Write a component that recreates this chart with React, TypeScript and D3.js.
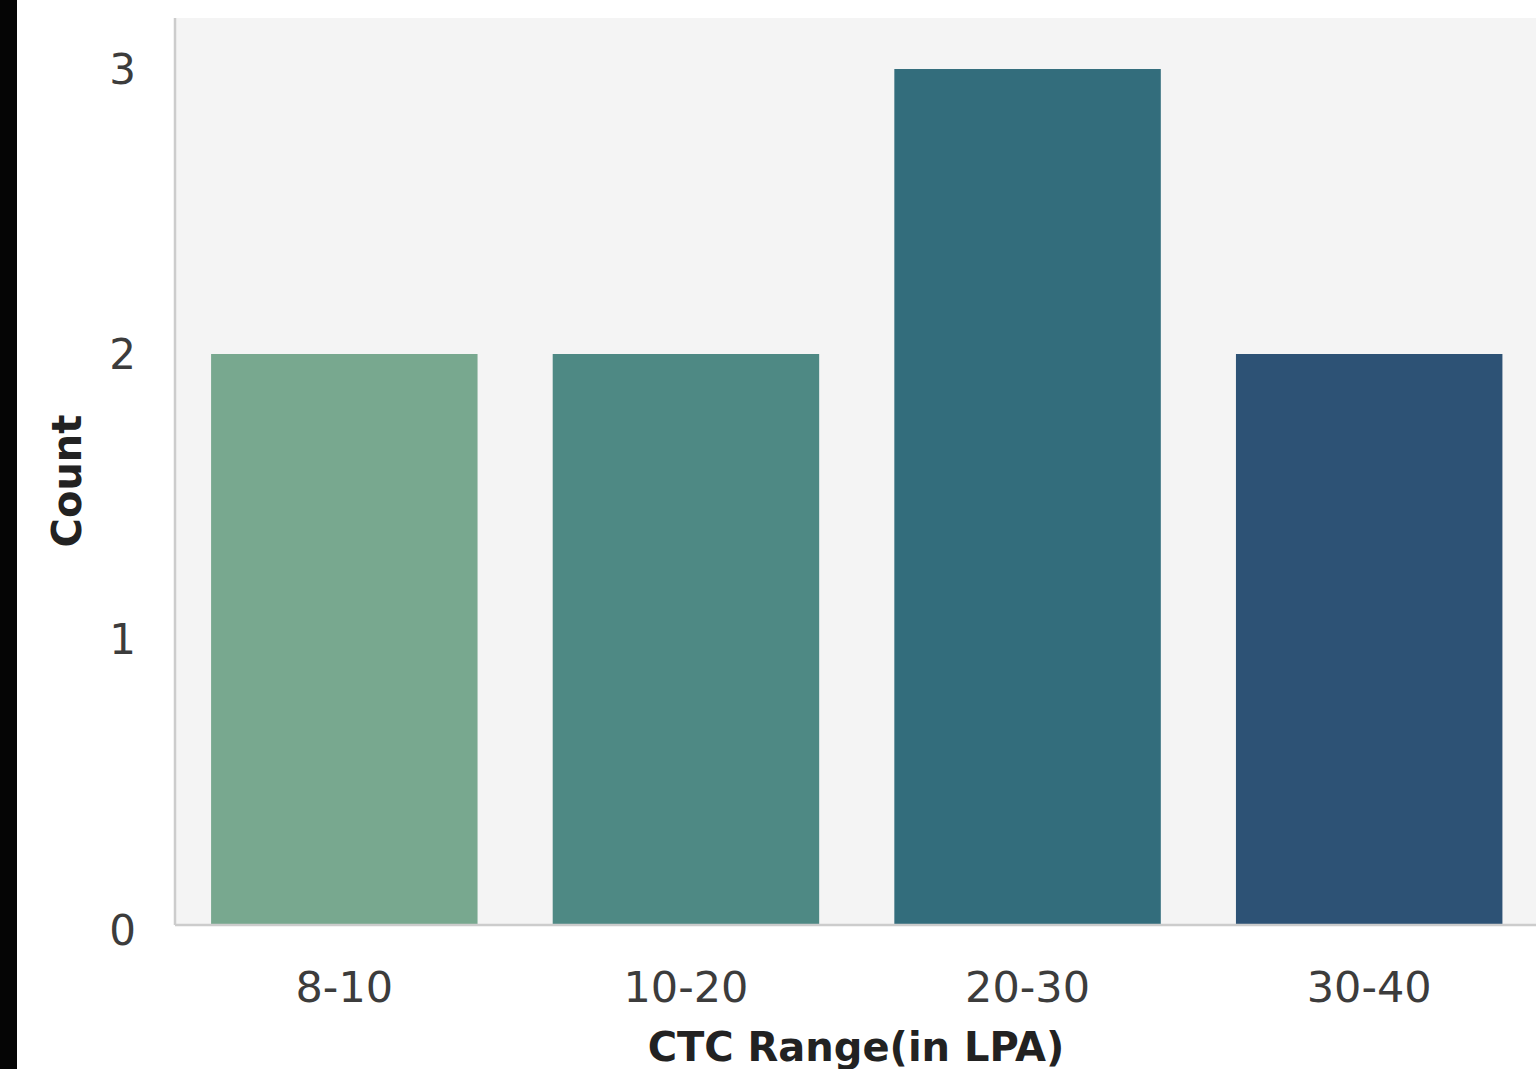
import React from "react";
import * as d3 from "d3";

const categories: string[] = ["8-10", "10-20", "20-30", "30-40"];
const counts: number[] = [2, 2, 3, 2];
const barColors: string[] = ["#78a88f", "#4e8984", "#336d7c", "#2d5275"];
const yTicks: number[] = [0, 1, 2, 3];
const xLabel = "CTC Range(in LPA)";
const yLabel = "Count";

const W = 1536;
const H = 1069;

export default function App() {
  const left = 175;
  const top = 18;
  const bottom = 924;
  const x = d3.scaleLinear().domain([-0.5, categories.length - 0.5]).range([173.5, 1540]);
  const y = d3.scaleLinear().domain([0, 3.179]).range([924, top]);
  const bw = 0.78;
  const font = "DejaVu Sans, sans-serif";
  return (
    <svg
      width={W}
      height={H}
      style={{ position: "absolute", left: 0, top: 0, background: "#ffffff" }}
    >
      <rect x={0} y={0} width={W} height={H} fill="#ffffff" />
      <rect x={0} y={0} width={17} height={H} fill="#050505" />
      <rect x={left} y={top} width={W - left} height={bottom - top} fill="#f4f4f4" />
      {counts.map((c, i) => (
        <rect
          key={categories[i]}
          x={x(i - bw / 2)}
          y={y(c)}
          width={x(i + bw / 2) - x(i - bw / 2)}
          height={y(0) - y(c)}
          fill={barColors[i]}
        />
      ))}
      <line x1={left} y1={top} x2={left} y2={bottom + 1} stroke="#cccccc" strokeWidth={2.5} />
      <line x1={left} y1={bottom + 1} x2={W} y2={bottom + 1} stroke="#cccccc" strokeWidth={2.5} />
      {yTicks.map((t) => (
        <text
          key={t}
          x={136}
          y={t === 0 ? y(t) + 6 : y(t)}
          textAnchor="end"
          dominantBaseline="central"
          fontFamily={font}
          fontSize={42}
          fill="#3c3c3c"
        >
          {t}
        </text>
      ))}
      {categories.map((c, i) => (
        <text
          key={c}
          x={x(i)}
          y={1002}
          textAnchor="middle"
          fontFamily={font}
          fontSize={43}
          fill="#3c3c3c"
        >
          {c}
        </text>
      ))}
      <text
        x={856}
        y={1061}
        textAnchor="middle"
        fontFamily={font}
        fontWeight="bold"
        fontSize={40}
        fill="#222222"
      >
        {xLabel}
      </text>
      <text
        transform={`translate(81, 481) rotate(-90)`}
        textAnchor="middle"
        fontFamily={font}
        fontWeight="bold"
        fontSize={40}
        fill="#222222"
      >
        {yLabel}
      </text>
    </svg>
  );
}
